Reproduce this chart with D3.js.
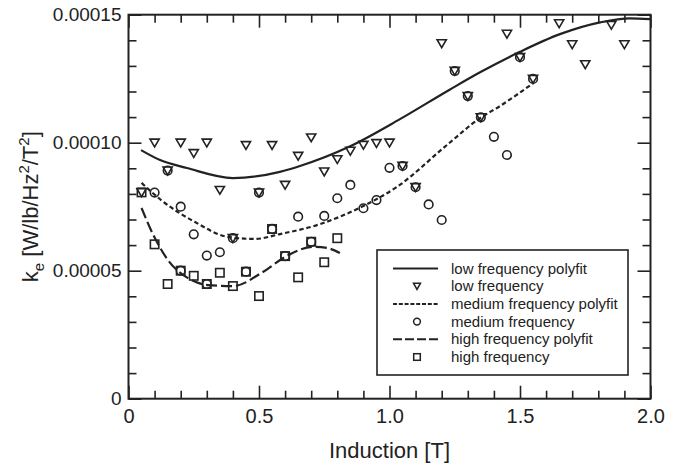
<!DOCTYPE html>
<html>
<head>
<meta charset="utf-8">
<script src="https://cdn.jsdelivr.net/npm/d3@7"></script>
<style>
    body { margin: 0; background: #fff; }
    svg { font-family: "Liberation Sans", Arial, sans-serif; }
    .tick text { fill: #222; }
    .tick line { stroke: #222; stroke-width: 1.6; }
    .domain { display: none; }
</style>
</head>
<body>
<svg id="chart" width="679" height="465"></svg>
<script>
/*
 Data: [induction T, k_e]
 */

var lowFreq = [[0.05, 8.06e-5], [0.10, 10.0e-5], [0.15, 8.91e-5], [0.20, 10.0e-5], [0.25, 9.59e-5],
    [0.30, 10.0e-5], [0.35, 8.15e-5], [0.40, 6.27e-5], [0.45, 9.90e-5], [0.50, 8.05e-5],
    [0.55, 9.90e-5], [0.60, 8.35e-5], [0.65, 9.48e-5], [0.70, 10.2e-5], [0.75, 8.87e-5],
    [0.80, 9.35e-5], [0.85, 9.68e-5], [0.90, 9.91e-5], [0.95, 9.98e-5], [1.00, 10.0e-5],
    [1.05, 9.09e-5], [1.10, 8.26e-5], [1.20, 13.88e-5], [1.25, 12.8e-5], [1.30, 11.82e-5],
    [1.35, 10.99e-5], [1.45, 14.25e-5], [1.50, 13.34e-5], [1.55, 12.49e-5], [1.65, 14.66e-5],
    [1.70, 13.84e-5], [1.75, 13.06e-5], [1.85, 14.6e-5], [1.90, 13.84e-5]];

var mediumFreq = [[0.10, 8.05e-5], [0.15, 8.91e-5], [0.20, 7.50e-5], [0.25, 6.42e-5], [0.30, 5.59e-5],
    [0.35, 5.72e-5], [0.40, 6.27e-5], [0.50, 8.05e-5], [0.65, 7.11e-5], [0.75, 7.14e-5],
    [0.80, 7.83e-5], [0.85, 8.35e-5], [0.90, 7.44e-5], [0.95, 7.76e-5], [1.00, 9.02e-5],
    [1.05, 9.09e-5], [1.10, 8.26e-5], [1.15, 7.59e-5], [1.20, 6.98e-5], [1.25, 12.8e-5],
    [1.30, 11.82e-5], [1.35, 10.99e-5], [1.40, 10.23e-5], [1.45, 9.52e-5], [1.50, 13.34e-5],
    [1.55, 12.49e-5], [0.20, 5.00e-5], [0.30, 4.48e-5], [0.45, 4.96e-5], [0.55, 6.63e-5],
    [0.60, 5.57e-5], [0.70, 6.13e-5]];

var highFreq = [[0.05, 8.06e-5], [0.10, 6.03e-5], [0.15, 4.48e-5], [0.20, 5.00e-5], [0.25, 4.80e-5],
    [0.30, 4.48e-5], [0.35, 4.92e-5], [0.40, 4.40e-5], [0.45, 4.96e-5], [0.50, 4.01e-5],
    [0.55, 6.63e-5], [0.60, 5.57e-5], [0.65, 4.74e-5], [0.70, 6.13e-5], [0.75, 5.33e-5],
    [0.80, 6.27e-5]];

var lowFit = [[0.048, 9.71e-5], [0.121, 9.32e-5], [0.224, 9.01e-5], [0.40, 8.62e-5], [0.58, 8.86e-5],
    [0.657, 9.09e-5], [0.849, 9.86e-5], [1.04, 10.92e-5], [1.232, 12.08e-5], [1.347, 12.75e-5],
    [1.50, 13.55e-5], [1.653, 14.24e-5], [1.807, 14.70e-5], [1.921, 14.86e-5], [1.998, 14.83e-5]];

var mediumFit = [[0.05, 8.43e-5], [0.125, 7.76e-5], [0.255, 6.90e-5], [0.381, 6.32e-5], [0.485, 6.24e-5],
    [0.58, 6.43e-5], [0.734, 6.82e-5], [0.90, 7.53e-5], [1.028, 8.27e-5], [1.22, 9.91e-5],
    [1.347, 10.96e-5], [1.423, 11.43e-5], [1.55, 12.32e-5]];

var highFit = [[0.05, 7.45e-5], [0.086, 6.59e-5], [0.151, 5.42e-5], [0.228, 4.71e-5], [0.305, 4.44e-5],
    [0.40, 4.40e-5], [0.515, 4.95e-5], [0.60, 5.54e-5], [0.707, 5.93e-5], [0.76, 5.89e-5],
    [0.81, 5.69e-5]];

var xMajorTicks = [0, 0.5, 1.0, 1.5, 2.0];
var yMajorTicks = [0, 0.00005, 0.00010, 0.00015];

var legendLabels = ['low frequency polyfit', 'low frequency', 'medium frequency polyfit',
    'medium frequency', 'high frequency polyfit', 'high frequency'];

/*
 Layout
 */

var VAR_LEFT = 128.5, VAR_RIGHT = 650.5, VAR_TOP = 14.7, VAR_BOTTOM = 398.7;
var VAR_TICK_MAJOR = 13, VAR_TICK_MINOR = 8;
var TRIANGLE = 'M-4.6,-3.6L4.6,-3.6L0,4.2Z';

var svg = d3.select('#chart');

var x = d3.scaleLinear().domain([0, 2]).range([VAR_LEFT, VAR_RIGHT]);
var y = d3.scaleLinear().domain([0, 0.00015]).range([VAR_BOTTOM, VAR_TOP]);

var xMinor = d3.range(0, 21).map(function (i) { return i / 10; })
    .filter(function (v) { return Math.round(v * 10) % 5 !== 0; });
var yMinor = d3.range(0, 16).map(function (i) { return i * 0.00001; })
    .filter(function (v, i) { return i % 5 !== 0; });

function fmtX(d) {
    return d === 0 ? '0' : d.toFixed(1);
}

function fmtY(d) {
    return d === 0 ? '0' : d.toFixed(5);
}

/*
 Axes
 */

function makeAxes(svg) {
    var g = svg.append('g').classed('axes', true);

    g.append('g')
        .attr('transform', 'translate(0,' + VAR_BOTTOM + ')')
        .call(d3.axisBottom(x).tickValues(xMajorTicks).tickFormat(fmtX)
            .tickSizeInner(-VAR_TICK_MAJOR).tickSizeOuter(0).tickPadding(10))
        .selectAll('text').style('font-size', '20px');
    g.append('g')
        .attr('transform', 'translate(0,' + VAR_BOTTOM + ')')
        .call(d3.axisBottom(x).tickValues(xMinor).tickFormat('').tickSizeInner(-VAR_TICK_MINOR).tickSizeOuter(0));
    g.append('g')
        .attr('transform', 'translate(0,' + VAR_TOP + ')')
        .call(d3.axisTop(x).tickValues(xMajorTicks).tickFormat('').tickSizeInner(-VAR_TICK_MAJOR).tickSizeOuter(0));
    g.append('g')
        .attr('transform', 'translate(0,' + VAR_TOP + ')')
        .call(d3.axisTop(x).tickValues(xMinor).tickFormat('').tickSizeInner(-VAR_TICK_MINOR).tickSizeOuter(0));

    g.append('g')
        .attr('transform', 'translate(' + VAR_LEFT + ',0)')
        .call(d3.axisLeft(y).tickValues(yMajorTicks).tickFormat(fmtY)
            .tickSizeInner(-VAR_TICK_MAJOR).tickSizeOuter(0).tickPadding(7))
        .selectAll('text').style('font-size', '19px');
    g.append('g')
        .attr('transform', 'translate(' + VAR_LEFT + ',0)')
        .call(d3.axisLeft(y).tickValues(yMinor).tickFormat('').tickSizeInner(-VAR_TICK_MINOR).tickSizeOuter(0));
    g.append('g')
        .attr('transform', 'translate(' + VAR_RIGHT + ',0)')
        .call(d3.axisRight(y).tickValues(yMajorTicks).tickFormat('').tickSizeInner(-VAR_TICK_MAJOR).tickSizeOuter(0));
    g.append('g')
        .attr('transform', 'translate(' + VAR_RIGHT + ',0)')
        .call(d3.axisRight(y).tickValues(yMinor).tickFormat('').tickSizeInner(-VAR_TICK_MINOR).tickSizeOuter(0));

    g.append('rect')
        .attr('x', VAR_LEFT)
        .attr('y', VAR_TOP)
        .attr('width', VAR_RIGHT - VAR_LEFT)
        .attr('height', VAR_BOTTOM - VAR_TOP)
        .attr('fill', 'none')
        .attr('stroke', '#222')
        .attr('stroke-width', 2);

    g.append('text')
        .attr('x', (VAR_LEFT + VAR_RIGHT) / 2)
        .attr('y', 458)
        .attr('text-anchor', 'middle')
        .style('font-size', '22px')
        .attr('fill', '#222')
        .text('Induction [T]');

    var yl = g.append('text')
        .attr('transform', 'translate(38,' + ((VAR_TOP + VAR_BOTTOM) / 2) + ') rotate(-90)')
        .attr('text-anchor', 'middle')
        .style('font-size', '22px')
        .attr('fill', '#222');
    yl.append('tspan').text('k');
    yl.append('tspan').attr('dy', 6).style('font-size', '15px').text('e');
    yl.append('tspan').attr('dy', -6).text(' [W/lb/Hz');
    yl.append('tspan').attr('dy', -9).style('font-size', '15px').text('2');
    yl.append('tspan').attr('dy', 9).text('/T');
    yl.append('tspan').attr('dy', -9).style('font-size', '15px').text('2');
    yl.append('tspan').attr('dy', 9).text(']');
}

/*
 Fitted curves and points
 */

function makeFitSVG(fitData, svg, dash) {
    var line = d3.line()
        .x(function (d) { return x(d[0]); })
        .y(function (d) { return y(d[1]); })
        .curve(d3.curveMonotoneX);

    return svg.append('path')
        .datum(fitData)
        .classed('fit', true)
        .attr('d', line)
        .attr('fill', 'none')
        .attr('stroke', '#222')
        .attr('stroke-width', 2.2)
        .attr('stroke-dasharray', dash);
}

function makePointsSVG(pointData, svg, kind) {
    var g = svg.append('g').classed('points-' + kind, true);
    var pts = g.selectAll('.pt')
        .data(pointData)
        .enter();

    if (kind === 'circle') {
        return pts.append('circle')
            .classed('pt', true)
            .attr('cx', function (d) { return x(d[0]); })
            .attr('cy', function (d) { return y(d[1]); })
            .attr('r', 4.3)
            .attr('fill', 'none')
            .attr('stroke', '#222')
            .attr('stroke-width', 1.6);
    }
    if (kind === 'square') {
        return pts.append('rect')
            .classed('pt', true)
            .attr('x', function (d) { return x(d[0]) - 4.2; })
            .attr('y', function (d) { return y(d[1]) - 4.2; })
            .attr('width', 8.4)
            .attr('height', 8.4)
            .attr('fill', 'none')
            .attr('stroke', '#222')
            .attr('stroke-width', 1.6);
    }
    return pts.append('path')
        .classed('pt', true)
        .attr('d', TRIANGLE)
        .attr('transform', function (d) {
            return 'translate(' + x(d[0]) + ',' + y(d[1]) + ')';
        })
        .attr('fill', 'none')
        .attr('stroke', '#222')
        .attr('stroke-width', 1.6);
}

/*
 Legend
 */

function makeLegendSVG(svg) {
    var lx = 377, ly = 250, rowH = 17.7;
    var g = svg.append('g').classed('legend', true);

    g.append('rect')
        .attr('x', lx)
        .attr('y', ly)
        .attr('width', 251)
        .attr('height', 125)
        .attr('fill', '#fff')
        .attr('stroke', '#222')
        .attr('stroke-width', 1.6);

    var rows = g.selectAll('.legendRow')
        .data(legendLabels)
        .enter().append('g')
        .classed('legendRow', true)
        .attr('transform', function (d, i) {
            return 'translate(0,' + (ly + 18.5 + i * rowH) + ')';
        });

    rows.append('text')
        .attr('x', 451)
        .attr('y', 5)
        .style('font-size', '15px')
        .attr('fill', '#222')
        .text(function (d) { return d; });

    rows.each(function (d, i) {
        var r = d3.select(this);
        if (i === 0 || i === 2 || i === 4) {
            r.append('line')
                .attr('x1', 393).attr('x2', 438)
                .attr('y1', 0).attr('y2', 0)
                .attr('stroke', '#222')
                .attr('stroke-width', 2)
                .attr('stroke-dasharray', i === 0 ? null : (i === 2 ? '4,1.8' : '9,3'));
        } else if (i === 1) {
            r.append('path')
                .attr('d', 'M-3.5,-3L3.5,-3L0,3.2Z')
                .attr('transform', 'translate(417,0)')
                .attr('fill', 'none').attr('stroke', '#222').attr('stroke-width', 1.5);
        } else if (i === 3) {
            r.append('circle')
                .attr('cx', 417).attr('cy', 0).attr('r', 3.4)
                .attr('fill', 'none').attr('stroke', '#222').attr('stroke-width', 1.5);
        } else {
            r.append('rect')
                .attr('x', 413.7).attr('y', -3.3).attr('width', 6.6).attr('height', 6.6)
                .attr('fill', 'none').attr('stroke', '#222').attr('stroke-width', 1.5);
        }
    });
}

makeAxes(svg);
makeFitSVG(lowFit, svg, null);
makeFitSVG(mediumFit, svg, '4.5,2.8');
makeFitSVG(highFit, svg, '11,4');
makePointsSVG(lowFreq, svg, 'triangle');
makePointsSVG(mediumFreq, svg, 'circle');
makePointsSVG(highFreq, svg, 'square');
makeLegendSVG(svg);
</script>
</body>
</html>
